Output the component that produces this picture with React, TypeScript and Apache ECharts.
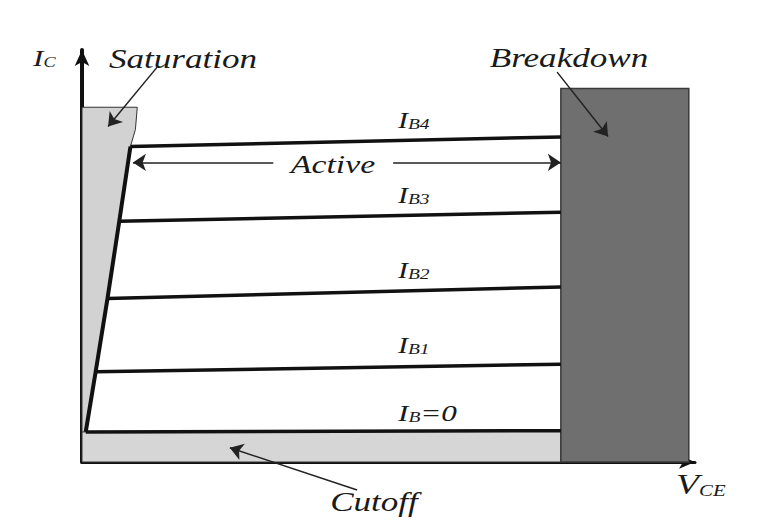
import React, { useEffect, useRef } from 'react';
import * as echarts from 'echarts';

// Axis extents (arbitrary units: VCE horizontally, IC vertically)
const X_MAX = 98.7;
const Y_MAX = 98.6;

// Collector-current curves (one per base current)
const curveNames = ['IB=0', 'IB1', 'IB2', 'IB3', 'IB4'];
const curveStart = [[0.6, 7.2], [2.2, 21.6], [4.1, 39.1], [6.0, 57.6], [7.8, 75.5]];
const curveEnd = [[77.1, 7.5], [77.1, 23.4], [77.1, 41.9], [77.1, 59.8], [77.1, 77.8]];

// Region outlines
const saturationRegion = [[0, 84.9], [8.9, 84.9], [8.6, 79.6], [7.8, 75.5], [0.6, 7.2], [0, 7.2]];
const cutoffRegion = [[0, 0], [0, 7.3], [77.1, 7.5], [77.1, 0]];
const breakdownRegion = [[77.1, 0], [77.1, 89.4], [97.7, 89.4], [97.7, 0]];

// Annotation arrows [from, to]
const saturationArrow = [[12.1, 94.5], [4.2, 80.3]];
const breakdownArrow = [[76.5, 93.3], [84.7, 77.9]];
const cutoffArrow = [[44.3, -6.7], [23.8, 3.4]];
const activeArrowLeft = [[30.8, 71.7], [8.2, 71.7]];
const activeArrowRight = [[50.1, 71.7], [77.1, 71.7]];

const FONT = 'Liberation Serif';
const INK = '#1a1a1a';
const SX = 1.3;

function bigText(text: string, x: number, y: number, size: number) {
  return {
    type: 'text', x, y, scaleX: SX, z: 100,
    style: { text, fontFamily: FONT, fontStyle: 'italic', fontSize: size, fill: INK, align: 'center', verticalAlign: 'middle' },
  };
}

function subText(x: number, y: number, parts: [string, boolean][], mainSize = 23, subSize = 15) {
  const text = parts.map(([t, isSub]) => `{${isSub ? 's' : 'm'}|${t}}`).join('');
  return {
    type: 'text', x, y, scaleX: SX, z: 100,
    style: {
      text, align: 'left', verticalAlign: 'middle',
      rich: {
        m: { fontFamily: FONT, fontStyle: 'italic', fontSize: mainSize, fill: INK, verticalAlign: 'bottom' },
        s: { fontFamily: FONT, fontStyle: 'italic', fontSize: subSize, fill: INK, verticalAlign: 'bottom' },
      },
    },
  };
}

function regionSeries(verts: number[][], fill: string, stroke: string, lw: number, z: number) {
  return {
    type: 'custom', z, silent: true, clip: false,
    data: [[0, 0]],
    renderItem: (_p: any, api: any) => ({
      type: 'polygon',
      shape: { points: verts.map((v) => api.coord(v)) },
      style: { fill, stroke, lineWidth: lw },
    }),
  };
}

export default function App() {
  const ref = useRef<HTMLDivElement>(null);
  useEffect(() => {
    document.body.style.margin = '0';
    const chart = echarts.init(ref.current!, null, { renderer: 'svg' });
    const axisCommon = {
      type: 'value',
      axisLabel: { show: false },
      axisTick: { show: false },
      splitLine: { show: false },
    };
    const labelLeft = 398;
    chart.setOption({
      animation: false,
      backgroundColor: '#ffffff',
      grid: { left: 82, right: 72, top: 50, bottom: 70 },
      xAxis: {
        ...axisCommon, min: 0, max: X_MAX,
        axisLine: { show: true, symbol: ['none', 'arrow'], symbolSize: [10, 16], lineStyle: { color: '#111', width: 3 } },
      },
      yAxis: {
        ...axisCommon, min: 0, max: Y_MAX,
        axisLine: { show: true, symbol: ['none', 'arrow'], symbolSize: [11, 16], lineStyle: { color: '#111', width: 4 } },
      },
      series: [
        regionSeries(cutoffRegion, '#d6d6d6', '#333', 1, 1),
        regionSeries(breakdownRegion, '#6f6f6f', '#3a3a3a', 1.5, 1),
        regionSeries(saturationRegion, '#d2d2d2', '#333', 1, 2),
        ...curveNames.map((name, i) => ({
          type: 'line', name, z: 5, symbol: 'none', silent: true,
          data: [curveStart[i], curveEnd[i]],
          lineStyle: { color: '#111', width: 3.5 },
        })),
        {
          type: 'line', name: 'saturation edge', z: 6, symbol: 'none', silent: true,
          data: curveStart,
          lineStyle: { color: '#111', width: 4 },
        },
        {
          type: 'lines', coordinateSystem: 'cartesian2d', z: 7, clip: false, silent: true,
          symbol: ['none', 'arrow'], symbolSize: [9, 13],
          lineStyle: { color: '#222', width: 1.5, opacity: 1, curveness: 0 },
          data: [saturationArrow, breakdownArrow, cutoffArrow, activeArrowLeft, activeArrowRight].map((c) => ({ coords: c })),
        },
      ],
      graphic: [
        subText(33, 58, [['I', false], ['C', true]], 24, 14),
        bigText('Saturation', 183, 59, 27),
        bigText('Breakdown', 569, 58, 27),
        bigText('Active', 333, 164, 26),
        bigText('Cutoff', 374, 502, 27),
        subText(labelLeft, 120, [['I', false], ['B4', true]]),
        subText(labelLeft, 195, [['I', false], ['B3', true]]),
        subText(labelLeft, 270, [['I', false], ['B2', true]]),
        subText(labelLeft, 345, [['I', false], ['B1', true]]),
        subText(labelLeft, 413, [['I', false], ['B', true], ['=0', false]], 24, 15),
        subText(676, 484, [['V', false], ['CE', true]], 29, 16),
      ],
    });
    return () => chart.dispose();
  }, []);
  return <div ref={ref} style={{ width: 767, height: 532 }} />;
}
